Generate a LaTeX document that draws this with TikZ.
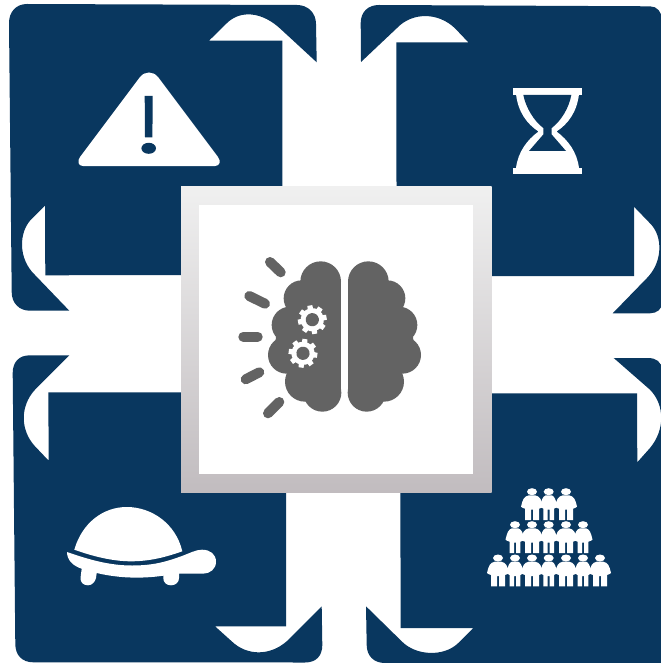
\documentclass[tikz,border=0pt]{standalone}
\definecolor{panel}{HTML}{09375F}
\definecolor{brain}{HTML}{636363}
\definecolor{frametop}{HTML}{F0F0F0}
\definecolor{framebot}{HTML}{C1BCBF}
\newcommand{\personfig}[4]{%
  \begin{scope}[shift={(#1,#2)}]
    \fill[white] (0,0) ellipse[x radius=5,y radius=3.5];
    \fill[white] (-3,3.6) -- (3,3.6) .. controls (#3-3,4.5) and (#3-1.5,8) .. (#3,15)
      -- (#3-1.5,16) -- (#4,17) -- (#4,28.4) -- (1,28.4) -- (1,18) -- (-1,18) -- (-1,28.4)
      -- (-#4,28.4) -- (-#4,17) -- (-#3+1.5,16) -- (-#3,15)
      .. controls (-#3+1.5,8) and (-#3+3,4.5) .. (-3,3.6) -- cycle;
  \end{scope}}
\newcommand{\gearfig}[3]{%
  \begin{scope}[shift={(#1,#2)},rotate=#3]
    \foreach \a in {0,45,...,315}
      \fill[white,rotate=\a] (-3.4,0) -- (-2.5,-14.4) -- (2.5,-14.4) -- (3.4,0) -- cycle;
    \fill[white] (0,0) circle[radius=11.6];
    \fill[brain] (0,0) circle[radius=6.6];
  \end{scope}}
\newcommand{\brainhalf}{%
  \fill[brain] (225,95) rectangle (333,428);
  \foreach \cx/\cy/\r in {272/95/61,215/145/54,180/225/55,190/270/53,170/315/56,225/395/60,277/428/57}
    \fill[brain] (\cx,\cy) circle[radius=\r];
  \fill[brain] (180,225) -- (225,95) -- (225,428) -- (170,315) -- cycle;}
\begin{document}
\begin{tikzpicture}[x=0.75pt,y=-0.75pt,
  raybar/.style={draw=brain,line width=7.5pt,line cap=round}]
\useasboundingbox (0,0) rectangle (660,663);
\fill[white] (0,0) rectangle (660,663);
% top-left panel
\fill[panel] (27,4) -- (297,5) .. controls (308,5) and (316,13) .. (316,24) -- (316.7,62.3) -- (281.7,30)
  .. controls (262,11) and (240,10) .. (226.7,23.3) -- (209,40.7) -- (282.3,40.7) -- (282.3,186.7) -- (181,186.7)
  -- (181,275) -- (45.3,275.3) -- (45,205.7) -- (33,217.5)
  .. controls (18,231) and (18,259) .. (35,275) -- (69.3,310.7) -- (30,310.7)
  .. controls (19,310.7) and (11.7,303) .. (11.7,292) -- (9,23) .. controls (9,12) and (16,4) .. (27,4) -- cycle;
% top-right panel
\fill[panel] (379,5) -- (650,6.3) .. controls (657,6.3) and (662,12) .. (662,20) -- (662,303)
  .. controls (662,309) and (657,313.3) .. (650,313.3) -- (612.7,313.3) -- (646.7,278.3)
  .. controls (663,262) and (663,236) .. (650,223.3) -- (634,206.7) -- (634,276) -- (491,276) -- (491,186.7)
  -- (396.5,186.7) -- (396.3,42.3) -- (468.3,42.3) -- (455,28.3)
  .. controls (438,12) and (412,12) .. (396.7,28.3) -- (361,62) -- (360.7,23)
  .. controls (360.7,12) and (368,5) .. (379,5) -- cycle;
% bottom-left panel
\fill[panel] (69.3,355.3) -- (30,355.3) .. controls (19,355.3) and (12.7,362) .. (12.7,373) -- (15.3,644)
  .. controls (15.3,655) and (22,662.3) .. (33.3,662.3) -- (305,662.5) .. controls (316,662.5) and (322.3,656) .. (322.3,645)
  -- (321.7,606.3) -- (286.7,641.3) .. controls (270,656) and (247,656) .. (231.7,641.3) -- (215,626.3)
  -- (286,626.3) -- (286,492.3) -- (181.7,492.3) -- (181.7,392.3) -- (48.3,392.3) -- (48.7,460.7) -- (35,446.3)
  .. controls (20,430) and (20,406) .. (35,389.7) -- cycle;
% bottom-right panel
\fill[panel] (613.7,358) -- (648,358) .. controls (656,358) and (662,362) .. (662,370) -- (662,663) -- (385,663)
  .. controls (374,663) and (366.7,656) .. (366.7,645) -- (366,606.3) -- (401.7,641.3)
  .. controls (416,656) and (444,657) .. (458.3,643) -- (473.3,628) -- (400.7,628) -- (400.3,492) -- (491.7,492)
  -- (491.7,393.3) -- (637,393.3) -- (637.3,462.3) -- (650,448)
  .. controls (665,430) and (665,405) .. (650,389.7) -- cycle;
% centre frame
\shade[top color=frametop,bottom color=framebot] (181,186.7) rectangle (491.5,492.3);
\fill[white] (199,204.7) rectangle (473,474.3);
% warning triangle
\fill[white] (140,77) .. controls (145,71) and (153,71) .. (158,77) -- (218,157)
  .. controls (221,161) and (220,166) .. (215,166) -- (83,166)
  .. controls (78,166) and (77,161) .. (80,157) -- cycle;
\fill[panel] (144.7,96) -- (152.7,96) -- (152.4,137.3) -- (145,137.3) -- cycle;
\fill[panel] (148.7,148.3) ellipse[x radius=7.3,y radius=5.5];
% hourglass
\fill[white] (512.7,88.3) rectangle (582.3,95);
\fill[white] (512.7,167.7) rectangle (582.3,174.3);
\fill[white] (516,94) .. controls (518,112) and (527,124) .. (538.5,131.5) .. controls (527,140) and (518,152) .. (516,168)
  -- (579,168) .. controls (577,152) and (568,140) .. (556.5,131.5) .. controls (568,124) and (577,112) .. (579,94) -- cycle;
\fill[panel] (523.3,95) -- (571.3,95) .. controls (569,108) and (561,121) .. (551.7,128) -- (551.7,134.5) -- (566,151)
  -- (529,151) -- (543.3,134.5) -- (543.3,128) .. controls (534,121) and (526,108) .. (523.3,95) -- cycle;
% turtle
\fill[white] (74.3,549.7) .. controls (82,523) and (103,507) .. (126.7,507) .. controls (152,507) and (176,524) .. (182.3,551.3)
  .. controls (166,557) and (150,561.3) .. (131,561.3) .. controls (112,561.3) and (92,556) .. (74.3,549.7) -- cycle;
\fill[white] (67,552) .. controls (90,560) and (110,565.5) .. (132,565.5) .. controls (155,565.5) and (168,561) .. (182,556)
  .. controls (190,553) and (196,549.7) .. (202,549.7) .. controls (210,549.7) and (216,554) .. (216,561.7)
  .. controls (216,569) and (210,573.7) .. (203,573.7) -- (179,573.7) -- (179,578) .. controls (179,582) and (176,585.3) .. (171,585.3)
  .. controls (166,585.3) and (163.3,582) .. (163.3,578) -- (163.3,575.7) .. controls (140,579) and (118,578) .. (96.7,573)
  -- (96,578) .. controls (95,582) and (92,585.3) .. (88,585.3) .. controls (83,585.3) and (80.3,582) .. (80.5,578)
  -- (81.7,568.7) .. controls (73,566) and (67,560) .. (67,552) -- cycle;
% people
\foreach \px/\py/\pw/\pl in {
  532/491.7/11/7, 548.7/491.7/8.7/5.3, 566/491.7/11/7,
  515/524.7/9.5/5.3, 532/524.7/11/7, 548.7/524.7/8.7/5.3, 566/524.7/11/7, 583/524.7/9.5/5.3,
  498/558/11/7, 515/558/8.7/5.3, 532/558/11/7, 548.7/558/8.7/5.3, 566/558/11/7, 583/558/8.7/5.3, 600/558/11/7}
  {\personfig{\px}{\py}{\pw}{\pl}}
% brain rays
\coordinate (r1a) at (270,262); \coordinate (r1b) at (280.7,272.3);
\coordinate (r2a) at (249.3,296); \coordinate (r2b) at (265,303.7);
\coordinate (r3a) at (243.3,336.7); \coordinate (r3b) at (257.7,336.7);
\coordinate (r4a) at (245.7,379.3); \coordinate (r4b) at (259.3,372.3);
\coordinate (r5a) at (268,413.3); \coordinate (r5b) at (279.3,402);
\foreach \n in {1,...,5} \draw[raybar] (r\n a) -- (r\n b);
% brain halves
\begin{scope}[shift={(230,250)},x=0.25pt,y=-0.25pt]\brainhalf\end{scope}
\begin{scope}[shift={(459,250)},x=-0.25pt,y=-0.25pt]\brainhalf\end{scope}
% gears
\gearfig{312.3}{319.7}{10}
\gearfig{303}{353.3}{-8}
\end{tikzpicture}
\end{document}
